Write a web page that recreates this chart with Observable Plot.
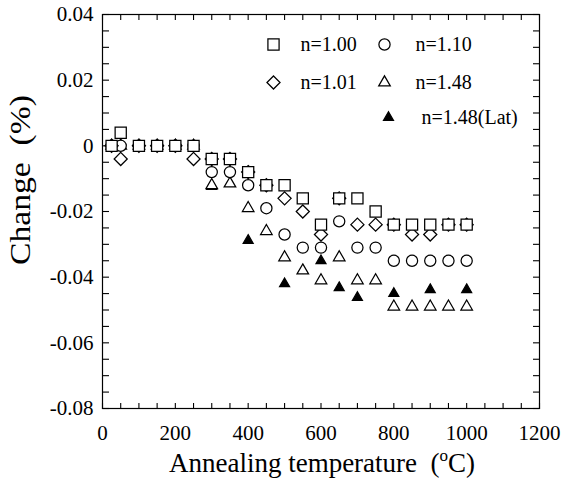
<!DOCTYPE html>
<html><head><meta charset="utf-8">
<script src="https://cdn.jsdelivr.net/npm/d3@7"></script>
<script src="https://cdn.jsdelivr.net/npm/@observablehq/plot@0.6"></script>
<style>body{margin:0;background:#fff}#chart{width:562px;height:480px}</style>
</head><body><div id="chart"></div>
<script>
// Annealing temperature (°C)
const tempsAll = [25,50,100,150,200,250,300,350,400,450,500,550,600,650,700,750,800,850,900,950,1000];
const tempsLat = [300,400,500,600,650,700,800,900,1000];
// Change (%) per series
const n100 = [0,0.004,0,0,0,0,-0.004,-0.004,-0.008,-0.012,-0.012,-0.016,-0.024,-0.016,-0.016,-0.020,-0.024,-0.024,-0.024,-0.024,-0.024];
const n110 = [0,0,0,0,0,0,-0.008,-0.008,-0.012,-0.019,-0.027,-0.031,-0.031,-0.023,-0.031,-0.031,-0.035,-0.035,-0.035,-0.035,-0.035];
const n101 = [0,-0.004,0,0,0,-0.004,-0.004,-0.004,-0.008,-0.012,-0.016,-0.020,-0.027,-0.016,-0.024,-0.024,-0.024,-0.027,-0.027,-0.024,-0.024];
const n148 = [0,0,0,0,0,0,-0.012,-0.0115,-0.019,-0.026,-0.034,-0.038,-0.041,-0.034,-0.041,-0.041,-0.049,-0.049,-0.049,-0.049,-0.049];
const n148Lat = [-0.0124,-0.0288,-0.042,-0.035,-0.0432,-0.0462,-0.045,-0.0438,-0.0438];
// labels
const seriesLabels = ["n=1.00","n=1.10","n=1.01","n=1.48","n=1.48(Lat)"];
const xLabelTicks = [0,200,400,600,800,1000,1200];
const yLabelTicks = [-0.08,-0.06,-0.04,-0.02,0,0.02,0.04];
const xTitle = "Annealing temperature";
const yTitle = "Change  (%)";

const font = "'Liberation Serif','Times New Roman',serif";
const xMinor = d3.range(0, 1201, 50);
const yMinor = d3.range(-16, 9).map(i => +(i * 0.005).toFixed(3));
const fmtY = d => d === 0 ? "0" : (d < 0 ? "-" : "") + Math.abs(d).toFixed(2);
const rows = (T, V) => T.map((t, i) => ({t, v: V[i]}));

const sw = 1.25;
const series = [
  {T: tempsLat, V: n148Lat, symbol: "triangle", r: 3.7, fill: "black", stroke: "black"},
  {T: tempsAll, V: n148, symbol: "triangle", r: 4.3, fill: "white", stroke: "black"},
  {T: tempsAll, V: n110, symbol: "circle", r: 5.6, fill: "white", stroke: "black"},
  {T: tempsAll, V: n101, symbol: "diamond2", r: 5.9, fill: "white", stroke: "black"},
  {T: tempsAll, V: n100, symbol: "square", r: 6.3, fill: "white", stroke: "black"}
];

// legend entries (symbol style + label), placed relative to top-left of frame
const legend = [
  {label: seriesLabels[0], symbol: "square", r: 6.3, fill: "white", dx: 171, tx: 198, dy: 30},
  {label: seriesLabels[1], symbol: "circle", r: 5.6, fill: "white", dx: 282, tx: 313, dy: 30},
  {label: seriesLabels[2], symbol: "diamond2", r: 5.9, fill: "white", dx: 171, tx: 198, dy: 68},
  {label: seriesLabels[3], symbol: "triangle", r: 4.3, fill: "white", dx: 282, tx: 313, dy: 68},
  {label: seriesLabels[4], symbol: "triangle", r: 3.7, fill: "black", dx: 286, tx: 319, dy: 103}
];

const tick = {tickSize: 6, tickFormat: () => "", label: null, strokeWidth: 1.1};
const marks = [
  Plot.frame({stroke: "black", strokeWidth: 1.2}),
  Plot.axisX(xMinor, {...tick, anchor: "top", frameAnchor: "bottom"}),
  Plot.axisX(xMinor, {...tick, anchor: "bottom", frameAnchor: "top"}),
  Plot.axisY(yMinor, {...tick, anchor: "right", frameAnchor: "left"}),
  Plot.axisY(yMinor, {...tick, anchor: "left", frameAnchor: "right"}),
  Plot.axisX(xLabelTicks, {anchor: "bottom", tickSize: 0, tickPadding: 17, fontSize: 21, label: null, tickFormat: d => String(d)}),
  Plot.axisY(yLabelTicks, {anchor: "left", tickSize: 0, tickPadding: 9, fontSize: 21, label: null, tickFormat: fmtY}),
  ...series.map(s => Plot.dot(rows(s.T, s.V), {x: "t", y: "v", symbol: s.symbol, r: s.r, fill: s.fill, stroke: s.stroke, strokeWidth: sw})),
  ...legend.map(l => Plot.dot([l.label], {frameAnchor: "top-left", dx: l.dx, dy: l.dy, symbol: l.symbol, r: l.r, fill: l.fill, stroke: "black", strokeWidth: sw})),
  ...legend.map(l => Plot.text([l.label], {frameAnchor: "top-left", dx: l.tx, dy: l.dy, textAnchor: "start", lineAnchor: "middle", fontSize: 20}))
];

const plot = Plot.plot({
  width: 562, height: 480,
  marginLeft: 102, marginRight: 23, marginTop: 14, marginBottom: 72,
  style: {fontFamily: font, fontSize: "20px", background: "white", color: "black"},
  x: {domain: [0, 1200], label: null},
  y: {domain: [-0.08, 0.04], label: null},
  marks
});

const svg = d3.select(plot);
const xt = svg.append("text").attr("x", 322).attr("y", 472).attr("text-anchor", "middle")
  .attr("font-family", font).attr("font-size", 27).attr("fill", "black");
xt.append("tspan").text(xTitle + "  (");
xt.append("tspan").attr("font-size", 17).attr("dy", -11).text("o");
xt.append("tspan").attr("dy", 11).text("C)");
svg.append("text").attr("transform", "translate(30,180) rotate(-90)").attr("text-anchor", "middle")
  .attr("font-family", font).attr("font-size", 30).attr("fill", "black")
  .attr("textLength", 170).attr("lengthAdjust", "spacingAndGlyphs").text(yTitle);

document.getElementById("chart").appendChild(plot);
</script></body></html>
